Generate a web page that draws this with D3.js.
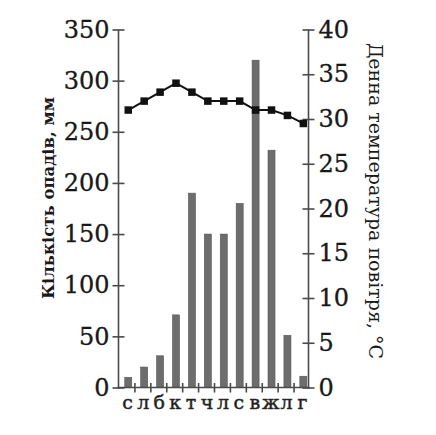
<!DOCTYPE html>
<html lang="uk">
<head>
<meta charset="utf-8">
<title>Кількість опадів і температура</title>
<script src="https://d3js.org/d3.v7.min.js"></script>
<style>
    body { margin: 0; background: white; }
    text { font-family: "DejaVu Serif", serif; fill: #1a1a1a; }
</style>
</head>
<body>
<script>
    // months (Ukrainian initials)
    var months = ["с", "л", "б", "к", "т", "ч", "л", "с", "в", "ж", "л", "г"];
    // precipitation, mm
    var rain = [10, 20, 31, 71, 190, 150, 150, 180, 320, 232, 51, 11];
    // daytime temperature, °C
    var temp = [31, 32, 33, 34, 33, 32, 32, 32, 31, 31, 30.4, 29.5];

    var rainTicks = [0, 50, 100, 150, 200, 250, 300, 350];
    var tempTicks = [0, 5, 10, 15, 20, 25, 30, 35, 40];

    var width = 436, height = 435;
    // note: "top" is reserved on window, so plot edges get their own names
    var plotL = 118.5, plotR = 308.5, plotT = 29.5, plotB = 387.5;
    var axisColor = "#4a4a4a";

    var svg = d3.select("body").append("svg")
        .attr("width", width)
        .attr("height", height);

    var x = d3.scaleBand()
        .domain(d3.range(months.length))
        .range([plotL, plotR + 1]);

    var yRain = d3.scaleLinear().domain([0, 350]).range([plotB, plotT]);
    var yTemp = d3.scaleLinear().domain([0, 40]).range([plotB, plotT]);

    // bars
    var barW = x.bandwidth() * 0.44;
    svg.append("g").selectAll("rect")
        .data(rain)
        .enter().append("rect")
        .attr("x", (d, i) => x(i) + x.bandwidth() / 2 - barW / 2 + 1.8)
        .attr("y", d => yRain(d))
        .attr("width", barW)
        .attr("height", d => plotB - yRain(d))
        .attr("fill", "#6d6d6d")
        .attr("stroke", "#555")
        .attr("stroke-width", 0.6);

    // left axis
    var gl = svg.append("g")
        .attr("transform", `translate(${plotL},0)`)
        .call(d3.axisLeft(yRain).tickValues(rainTicks).tickSize(6).tickPadding(3));
    gl.selectAll(".tick line").attr("x1", 6);

    // right axis
    var gr = svg.append("g")
        .attr("transform", `translate(${plotR},0)`)
        .call(d3.axisRight(yTemp).tickValues(tempTicks).tickSize(6).tickPadding(4));
    gr.selectAll(".tick line").attr("x1", -6);

    // bottom axis: ticks on month boundaries
    var bounds = d3.range(1, months.length).map(i => x(i));
    var gb = svg.append("g")
        .attr("transform", `translate(0,${plotB})`)
        .call(d3.axisBottom(d3.scaleLinear().domain([plotL, plotR + 1]).range([plotL, plotR + 1]))
            .tickValues(bounds).tickSize(5).tickFormat("").tickSizeOuter(0));
    gb.selectAll(".tick line").attr("y1", -4.5);

    [gl, gr, gb].forEach(function(g) {
        g.select(".domain").attr("stroke", axisColor).attr("stroke-width", 1.6);
        g.selectAll(".tick line").attr("stroke", axisColor).attr("stroke-width", 1.6);
    });
    gb.select(".domain").attr("d", `M${plotL - 1},0H${plotR + 1}`);
    gl.select(".domain").attr("d", `M0,${plotT}V${plotB + 1}`);
    gr.select(".domain").attr("d", `M0,${plotT}V${plotB + 1}`);

    [gl, gr].forEach(function(g) {
        g.selectAll(".tick text")
            .attr("font-family", "DejaVu Serif")
            .attr("font-size", 24)
            .attr("fill", "#111")
            .attr("stroke", "#111")
            .attr("stroke-width", 0.3);
    });

    // month labels
    svg.append("g").selectAll("text")
        .data(months)
        .enter().append("text")
        .attr("x", (d, i) => x(i) + x.bandwidth() / 2 + 1)
        .attr("y", 409)
        .attr("text-anchor", "middle")
        .attr("font-family", "Liberation Serif")
        .attr("font-size", 19)
        .attr("fill", "#333")
        .attr("stroke", "#333")
        .attr("stroke-width", 0.5)
        .text(d => d);

    // temperature line
    var cx = (d, i) => x(i) + x.bandwidth() / 2 + 1.8;
    svg.append("path")
        .datum(temp)
        .attr("fill", "none")
        .attr("stroke", "#111")
        .attr("stroke-width", 2)
        .attr("d", d3.line().x(cx).y(d => yTemp(d)));

    var s = 7.5;
    svg.append("g").selectAll("rect")
        .data(temp)
        .enter().append("rect")
        .attr("x", (d, i) => cx(d, i) - s / 2)
        .attr("y", d => yTemp(d) - s / 2)
        .attr("width", s)
        .attr("height", s)
        .attr("fill", "#111");

    // axis titles
    svg.append("text")
        .attr("transform", "translate(54,198) rotate(-90)")
        .attr("text-anchor", "middle")
        .attr("font-size", 16.5)
        .attr("font-weight", "bold")
        .attr("fill", "#333")
        .text("Кількість опадів, мм");

    svg.append("text")
        .attr("transform", "translate(369,201) rotate(90)")
        .attr("text-anchor", "middle")
        .attr("font-size", 19)
        .attr("fill", "#333")
        .text("Денна температура повітря, °C");
</script>
</body>
</html>
